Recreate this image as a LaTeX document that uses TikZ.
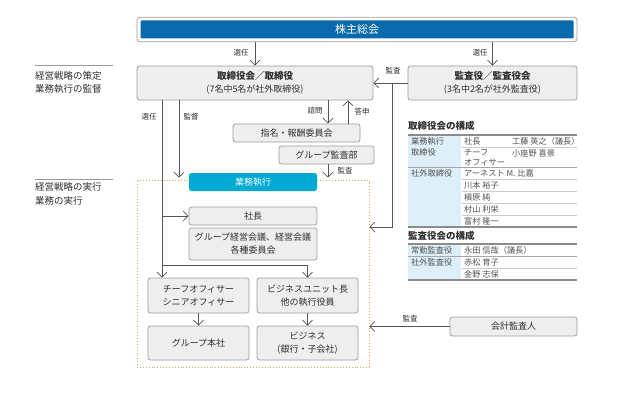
\documentclass[tikz,border=0pt]{standalone}
\usepackage{fontspec}
\setmainfont{Noto Sans CJK JP}
\usetikzlibrary{arrows.meta}
\definecolor{txt}{HTML}{2E2E2E}
\definecolor{bx}{HTML}{EEEEEE}
\definecolor{bxd}{HTML}{9C9C9C}
\definecolor{navy}{HTML}{0A6AAD}
\definecolor{cyanb}{HTML}{00AAD2}
\definecolor{orng}{HTML}{F0A04B}
\definecolor{lnc}{HTML}{555555}
\definecolor{tblfill}{HTML}{DDEFF8}
\definecolor{ttxt}{HTML}{505050}
\begin{document}
\begin{tikzpicture}[x=1pt,y=-1pt,
  box/.style={draw=bxd, fill=bx, rounded corners=2.5pt, line width=0.7pt, inner sep=0pt, align=center, text=txt, font=\fontsize{9}{13}\selectfont},
  arr/.style={draw=lnc, line width=0.7pt, -{Straight Barb[length=5pt,width=10pt,line width=0.7pt]}},
  ln/.style={draw=lnc, line width=0.7pt},
  lbl/.style={text=txt, font=\fontsize{7.5}{8}\selectfont, inner sep=0pt},
  side/.style={text=txt, font=\fontsize{9.5}{12}\selectfont, anchor=west, inner sep=0pt},
  sline/.style={draw=gray!80, line width=1pt},
  ttl/.style={text=txt, font=\bfseries\fontsize{9.5}{12}\selectfont, anchor=west, inner sep=0pt},
  tc/.style={text=ttxt, font=\fontsize{8.2}{10}\selectfont, anchor=west, inner sep=0pt},
  tthick/.style={draw=gray!90, line width=1.3pt},
  tmid/.style={draw=gray!70, line width=0.6pt},
  tthin/.style={draw=gray!40, line width=0.5pt}
]
\useasboundingbox (0,0) rectangle (619,396);

% side labels
\draw[sline] (35,66) -- (113,66);
\node[side] (s1a) at (35,76) {経営戦略の策定};
\node[side] (s1b) at (35,89) {業務執行の監督};
\draw[sline] (35,179) -- (113,179);
\node[side] (s2a) at (35,187) {経営戦略の実行};
\node[side] (s2b) at (35,201) {業務の実行};

% top bar
\node[draw=bxd, fill=white, rounded corners=3pt, line width=0.7pt, minimum width=440pt, minimum height=24.5pt, inner sep=0pt] (top) at (357,29.5) {};
\node[fill=navy, rounded corners=1pt, minimum width=433pt, minimum height=18pt, inner sep=0pt, text=white, font=\fontsize{11}{13}\selectfont] (topin) at (357,29.5) {株主総会};

% main boxes
\node[box, minimum width=236pt, minimum height=34pt] (board) at (255,83) {{\bfseries\fontsize{9.5}{13}\selectfont 取締役会／取締役}\\(7名中5名が社外取締役)};
\node[box, minimum width=169pt, minimum height=34pt] (audit) at (492.5,83) {{\bfseries\fontsize{9.5}{13}\selectfont 監査役／監査役会}\\(3名中2名が社外監査役)};
\node[box, minimum width=127pt, minimum height=18pt] (nom) at (296.5,133) {指名・報酬委員会};
\node[box, minimum width=95pt, minimum height=18pt] (gaudit) at (326.5,155) {グループ監査部};

% operations area
\node[draw=orng, dotted, line width=0.9pt, minimum width=232pt, minimum height=187pt, inner sep=0pt] (ops) at (253,273.5) {};
\node[fill=cyanb, rounded corners=2.5pt, minimum width=128pt, minimum height=18pt, inner sep=0pt, text=white, font=\fontsize{9}{11}\selectfont] (exec) at (253,182) {業務執行};
\node[box, minimum width=128pt, minimum height=18pt] (pres) at (253,216) {社長};
\node[box, minimum width=128pt, minimum height=32pt] (mgmt) at (253,244) {グループ経営会議、経営会議\\各種委員会};
\node[box, minimum width=101pt, minimum height=35pt] (chief) at (198.5,295.5) {チーフオフィサー\\シニアオフィサー};
\node[box, minimum width=101pt, minimum height=35pt] (bu) at (307.5,295.5) {ビジネスユニット長\\他の執行役員};
\node[box, minimum width=101pt, minimum height=34pt] (hq) at (198.5,343) {グループ本社};
\node[box, minimum width=101pt, minimum height=34pt] (biz) at (307.5,343) {ビジネス\\(銀行・子会社)};
\node[box, minimum width=127pt, minimum height=19pt] (acct) at (513.5,326.5) {会計監査人};

% helper x positions
\coordinate (x162) at (162,0);
\coordinate (x179) at (179,0);
\coordinate (x328) at (328,0);
\coordinate (x348) at (348,0);
\coordinate (j1) at (392,83);
\coordinate (jn) at (162,265);

% connectors
\draw[arr] (top.south -| board.north) -- (board.north);
\node[lbl] (l1) at (241,53) {選任};
\draw[arr] (top.south -| audit.north) -- (audit.north);
\node[lbl] (l2) at (480,53) {選任};
\draw[arr] (audit.west) -- (board.east);
\node[lbl] (l3) at (393,71) {監査};
\draw[arr] (j1) |- ([yshift=46.5pt]ops.east);
\draw[arr] (x328 |- board.south) -- (x328 |- nom.north);
\node[lbl] (l4) at (315,111) {諮問};
\draw[arr] (x348 |- nom.north) -- (x348 |- board.south);
\node[lbl] (l5) at (362,112) {答申};
\draw[arr, shorten >=2pt] (gaudit.south -| x328) -- (x328 |- ops.north);
\node[lbl] (l6) at (345,171) {監査};
\draw[arr, shorten >=2pt] (x179 |- board.south) -- (x179 |- ops.north);
\node[lbl] (l7) at (191,117) {監督};
\draw[arr] (x162 |- board.south) -- (x162 |- chief.north);
\node[lbl] (l8) at (149,117) {選任};
\draw[arr] (jn) -| (bu.north);
\draw[arr] (x162 |- pres.west) -- (pres.west);
\draw[arr] (chief.south) -- (hq.north);
\draw[arr] (bu.south) -- (biz.north);
\draw[arr] (acct.west) -- (ops.east |- acct.west);
\node[lbl] (l9) at (410,319) {監査};

% table 1
\node[ttl] (t1) at (408,126) {取締役会の構成};
\fill[tblfill] (408,135) rectangle (461,227);
\draw[tthin] (462,147) -- (577,147);
\draw[tthin] (462,179) -- (577,179);
\draw[tthin] (462,191) -- (577,191);
\draw[tthin] (462,203) -- (577,203);
\draw[tthin] (462,215) -- (577,215);
\draw[tmid] (408,167) -- (577,167);
\draw[tthick] (408,135) -- (577,135);
\draw[tthick] (408,227) -- (577,227);
\node[tc] (a1) at (411,141) {業務執行};
\node[tc] (a2) at (411,152.5) {取締役};
\node[tc] (a3) at (464,141) {社長};
\node[tc] (a4) at (512,141) {工藤 英之（議長）};
\node[tc] (a5) at (464,153) {チーフ};
\node[tc] (a6) at (464,162.5) {オフィサー};
\node[tc] (a7) at (512,153) {小座野 喜景};
\node[tc] (a8) at (411,173) {社外取締役};
\node[tc] (a9) at (464,173) {アーネスト M. 比嘉};
\node[tc] (a10) at (464,185) {川本 裕子};
\node[tc] (a11) at (464,197) {槇原 純};
\node[tc] (a12) at (464,209) {村山 利栄};
\node[tc] (a13) at (464,221) {富村 隆一};

% table 2
\node[ttl] (t2) at (408,236) {監査役会の構成};
\fill[tblfill] (408,244) rectangle (461,280);
\draw[tthin] (462,268) -- (577,268);
\draw[tmid] (408,256) -- (577,256);
\draw[tthick] (408,244) -- (577,244);
\draw[tthick] (408,280) -- (577,280);
\node[tc] (b1) at (411,250) {常勤監査役};
\node[tc] (b2) at (464,250) {永田 信哉（議長）};
\node[tc] (b3) at (411,262) {社外監査役};
\node[tc] (b4) at (464,262) {赤松 育子};
\node[tc] (b5) at (464,274) {金野 志保};
\end{tikzpicture}
\end{document}
